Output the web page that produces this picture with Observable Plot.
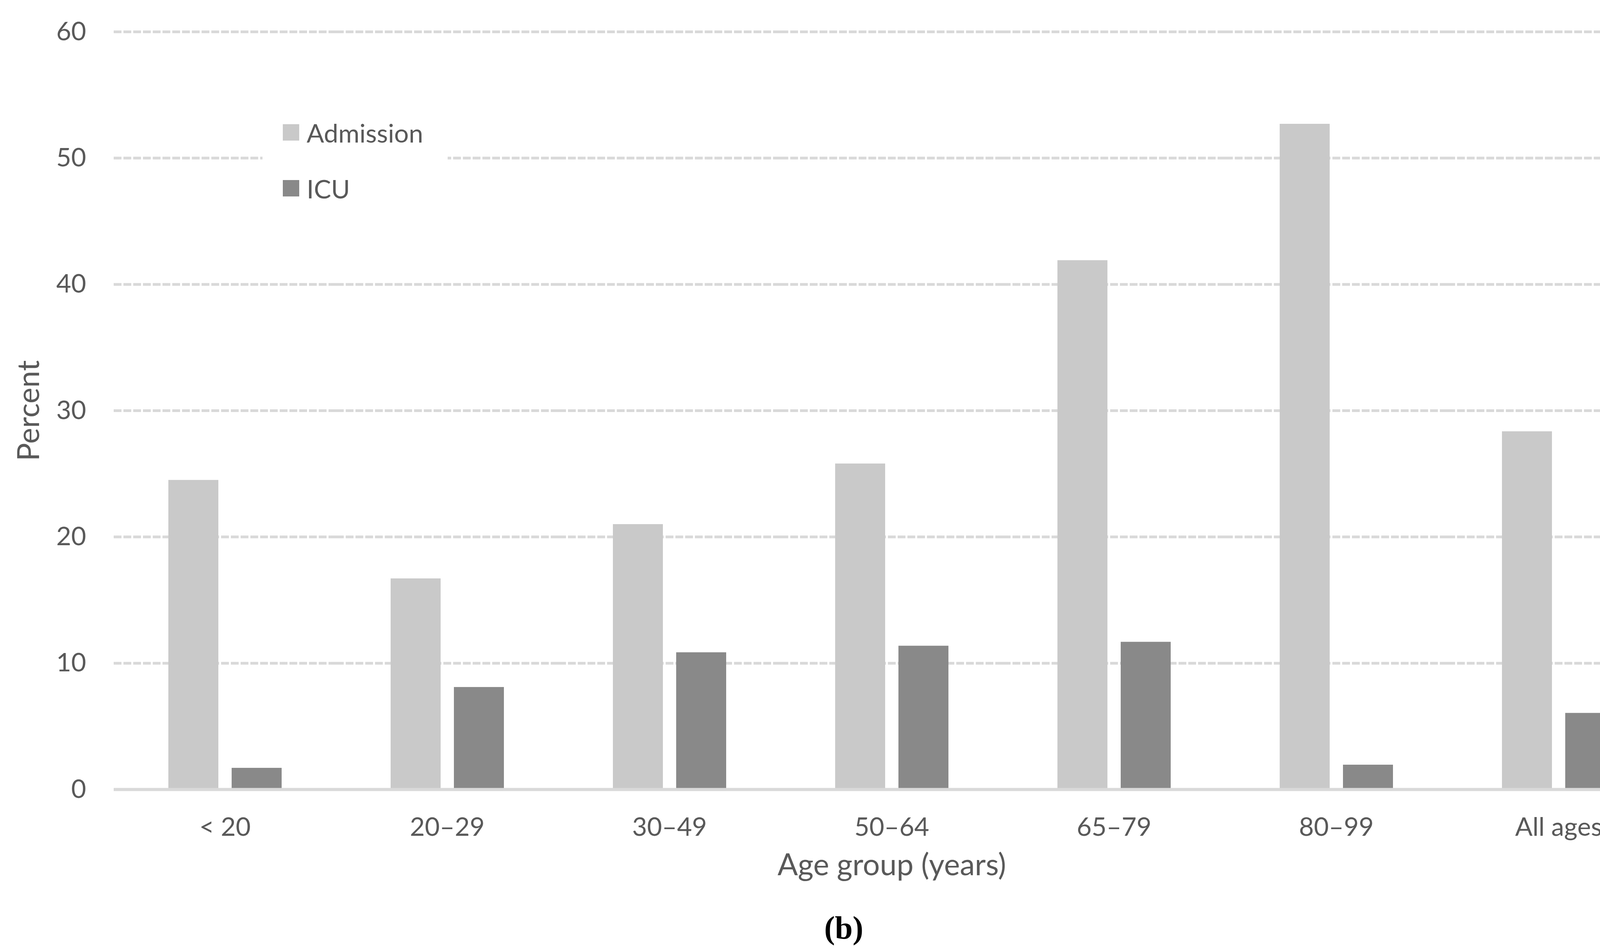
<!DOCTYPE html>
<html>
<head>
<meta charset="utf-8">
<script src="https://cdn.jsdelivr.net/npm/d3@7"></script>
<script src="https://cdn.jsdelivr.net/npm/@observablehq/plot@0.6"></script>
<style>
  html, body { margin: 0; padding: 0; background: #ffffff; }
  #wrap { position: relative; width: 4320px; }
  #legend {
    position: absolute; left: 672px; top: 290px; width: 474px; height: 250px;
    background: #ffffff; font-family: Lato, "Noto Sans", sans-serif; font-size: 66px; color: #595959;
  }
  .row { position: absolute; left: 52px; height: 42px; display: flex; align-items: center; white-space: nowrap; }
  .sw { width: 42px; height: 42px; margin-right: 19px; flex: none; }
  #caption {
    width: 4320px; height: 115px; line-height: 115px; text-align: center;
    font-family: "Liberation Serif", "DejaVu Serif", serif; font-weight: bold; font-size: 82px; color: #000000;
  }
</style>
</head>
<body>
<div id="wrap">
  <div id="chart"></div>
  <div id="legend"></div>
</div>
<div id="caption">(<span>b</span>)</div>
<script>
const categories = ["< 20", "20–29", "30–49", "50–64", "65–79", "80–99", "All ages"];
const seriesNames = ["Admission", "ICU"];
const admission = [24.5, 16.7, 21.0, 25.8, 41.9, 52.7, 28.35];
const icu = [1.7, 8.1, 10.85, 11.37, 11.68, 1.95, 6.05];
const yTicks = [0, 10, 20, 30, 40, 50, 60];
const seriesColors = ["#c9c9c9", "#898989"];
const xTitle = "Age group (years)";
const yTitle = "Percent";

const values = {Admission: admission, ICU: icu};
const data = categories.flatMap((c, i) => seriesNames.map(s => ({category: c, series: s, value: values[s][i]})));

const chart = Plot.plot({
  width: 4320,
  height: 2318,
  marginTop: 81,
  marginBottom: 297,
  marginLeft: 289,
  marginRight: 45,
  style: {fontFamily: "Lato, 'Noto Sans', sans-serif", fontSize: "66px", color: "#595959", background: "#ffffff"},
  fx: {domain: categories, padding: 0, axis: "bottom", tickSize: 0, tickPadding: 72, label: null},
  x: {domain: seriesNames, paddingInner: 0.21, paddingOuter: 0.86, axis: null},
  y: {domain: [0, 60], ticks: yTicks, tickSize: 0, tickPadding: 71, label: null},
  color: {domain: seriesNames, range: seriesColors},
  marks: [
    Plot.ruleY(yTicks.filter(d => d > 0), {stroke: "#d9d9d9", strokeWidth: 7, strokeDasharray: "20,5"}),
    Plot.barY(data, {fx: "category", x: "series", y: "value", fill: "series"}),
    Plot.ruleY([0], {stroke: "#d9d9d9", strokeWidth: 8}),
    Plot.text([yTitle], {frameAnchor: "left", rotate: -90, textAnchor: "middle", dx: -216, fontSize: 77, fill: "#595959", facet: "super"}),
    Plot.text([xTitle], {frameAnchor: "bottom", textAnchor: "middle", dy: 219, fontSize: 77, fill: "#595959", facet: "super"})
  ]
});
document.getElementById("chart").appendChild(chart);

const legend = document.getElementById("legend");
const rowTops = [28, 171];
seriesNames.forEach((s, i) => {
  const row = document.createElement("div");
  row.className = "row";
  row.style.top = rowTops[i] + "px";
  const sw = document.createElement("div");
  sw.className = "sw";
  sw.style.background = seriesColors[i];
  const label = document.createElement("span");
  label.textContent = s;
  row.appendChild(sw);
  row.appendChild(label);
  legend.appendChild(row);
});
</script>
</body>
</html>
